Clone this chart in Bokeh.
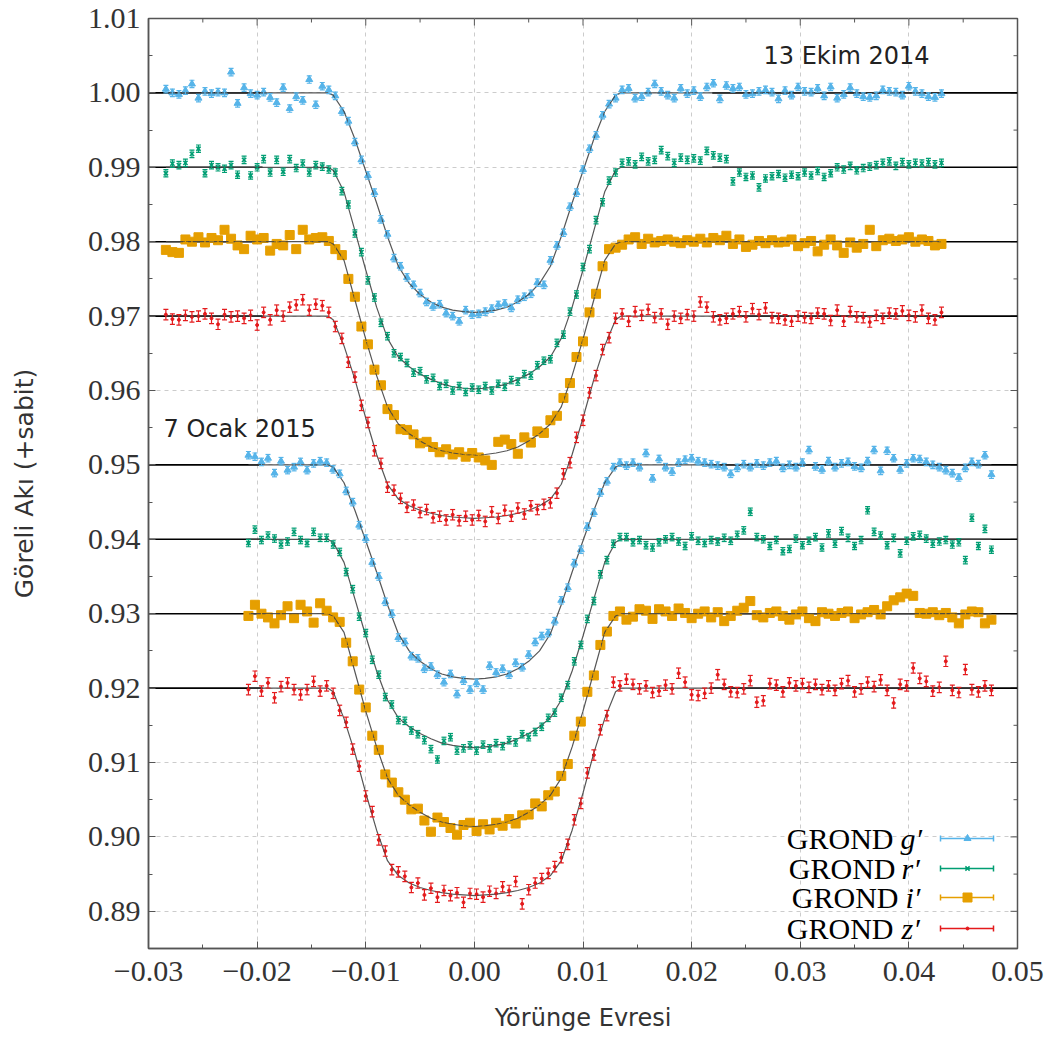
from bokeh.plotting import figure
from bokeh.models import (Range1d, FixedTicker, CustomJSTickFormatter,
                          ColumnDataSource, Whisker, TeeHead)
from bokeh.core.properties import value
from bokeh.embed import file_html
from bokeh.resources import INLINE

# ---------------- data ----------------
phase_oct = [
    -0.0284, -0.0278, -0.0272, -0.0266, -0.0260, -0.0254, -0.0248, -0.0242, -0.0236, -0.0230,
    -0.0224, -0.0218, -0.0212, -0.0206, -0.0200, -0.0194, -0.0188, -0.0182, -0.0176, -0.0170,
    -0.0164, -0.0158, -0.0152, -0.0146, -0.0140, -0.0134, -0.0128, -0.0122, -0.0116, -0.0110,
    -0.0104, -0.0098, -0.0092, -0.0086, -0.0080, -0.0074, -0.0068, -0.0062, -0.0056, -0.0050,
    -0.0044, -0.0038, -0.0032, -0.0026, -0.0020, -0.0014, -0.0008, -0.0002, 0.0004, 0.0010,
    0.0016, 0.0022, 0.0028, 0.0034, 0.0040, 0.0046, 0.0052, 0.0058, 0.0064, 0.0070,
    0.0076, 0.0082, 0.0088, 0.0094, 0.0100, 0.0106, 0.0112, 0.0118, 0.0124, 0.0130,
    0.0136, 0.0142, 0.0148, 0.0154, 0.0160, 0.0166, 0.0172, 0.0178, 0.0184, 0.0190,
    0.0196, 0.0202, 0.0208, 0.0214, 0.0220, 0.0226, 0.0232, 0.0238, 0.0244, 0.0250,
    0.0256, 0.0262, 0.0268, 0.0274, 0.0280, 0.0286, 0.0292, 0.0298, 0.0304, 0.0310,
    0.0316, 0.0322, 0.0328, 0.0334, 0.0340, 0.0346, 0.0352, 0.0358, 0.0364, 0.0370,
    0.0376, 0.0382, 0.0388, 0.0394, 0.0400, 0.0406, 0.0412, 0.0418, 0.0424, 0.0430]

phase_jan = [
    -0.0208, -0.0202, -0.0196, -0.0190, -0.0184, -0.0178, -0.0172, -0.0166, -0.0160, -0.0154,
    -0.0148, -0.0142, -0.0136, -0.0130, -0.0124, -0.0118, -0.0112, -0.0106, -0.0100, -0.0094,
    -0.0088, -0.0082, -0.0076, -0.0070, -0.0064, -0.0058, -0.0052, -0.0046, -0.0040, -0.0034,
    -0.0028, -0.0022, -0.0016, -0.0010, -0.0004, 0.0002, 0.0008, 0.0014, 0.0020, 0.0026,
    0.0032, 0.0038, 0.0044, 0.0050, 0.0056, 0.0062, 0.0068, 0.0074, 0.0080, 0.0086,
    0.0092, 0.0098, 0.0104, 0.0110, 0.0116, 0.0122, 0.0128, 0.0134, 0.0140, 0.0146,
    0.0152, 0.0158, 0.0164, 0.0170, 0.0176, 0.0182, 0.0188, 0.0194, 0.0200, 0.0206,
    0.0212, 0.0218, 0.0224, 0.0230, 0.0236, 0.0242, 0.0248, 0.0254, 0.0260, 0.0266,
    0.0272, 0.0278, 0.0284, 0.0290, 0.0296, 0.0302, 0.0308, 0.0314, 0.0320, 0.0326,
    0.0332, 0.0338, 0.0344, 0.0350, 0.0356, 0.0362, 0.0368, 0.0374, 0.0380, 0.0386,
    0.0392, 0.0398, 0.0404, 0.0410, 0.0416, 0.0422, 0.0428, 0.0434, 0.0440, 0.0446,
    0.0452, 0.0458, 0.0464, 0.0470, 0.0476]

# 13 Ekim 2014
g_oct = [
    1.0005, 1.0000, 0.9998, 1.0003, 1.0012, 0.9993, 1.0002, 0.9999, 1.0001, 1.0000,
    1.0028, 0.9986, 1.0007, 0.9999, 0.9997, 1.0001, 0.9994, 0.9987, 1.0007, 0.9979,
    0.9995, 0.9990, 1.0018, 0.9984, 1.0009, 1.0004, 0.9996, 0.9975, 0.9962, 0.9934,
    0.9910, 0.9889, 0.9866, 0.9830, 0.9810, 0.9778, 0.9767, 0.9752, 0.9742, 0.9731,
    0.9719, 0.9713, 0.9716, 0.9704, 0.9700, 0.9693, 0.9708, 0.9702, 0.9703, 0.9706,
    0.9710, 0.9715, 0.9717, 0.9711, 0.9722, 0.9726, 0.9730, 0.9745, 0.9742, 0.9775,
    0.9795, 0.9812, 0.9847, 0.9866, 0.9897, 0.9925, 0.9943, 0.9970, 0.9985, 0.9993,
    1.0004, 1.0006, 0.9993, 0.9995, 1.0001, 1.0012, 1.0002, 0.9997, 0.9993, 1.0006,
    0.9999, 1.0003, 0.9995, 1.0008, 1.0013, 0.9992, 1.0010, 1.0006, 1.0008, 0.9998,
    0.9999, 1.0002, 1.0004, 1.0001, 0.9992, 1.0003, 0.9997, 1.0008, 1.0002, 1.0001,
    1.0006, 0.9996, 1.0008, 0.9993, 0.9998, 1.0007, 0.9999, 0.9995, 0.9994, 0.9996,
    1.0004, 1.0002, 1.0001, 0.9997, 1.0009, 1.0002, 0.9999, 0.9995, 0.9994, 0.9999]
r_oct = [
    0.9892, 0.9905, 0.9903, 0.9906, 0.9918, 0.9925, 0.9892, 0.9903, 0.9900, 0.9898,
    0.9903, 0.9890, 0.9910, 0.9889, 0.9900, 0.9911, 0.9893, 0.9910, 0.9894, 0.9911,
    0.9899, 0.9905, 0.9893, 0.9903, 0.9901, 0.9897, 0.9893, 0.9868, 0.9850, 0.9811,
    0.9786, 0.9748, 0.9725, 0.9691, 0.9673, 0.9650, 0.9645, 0.9637, 0.9624, 0.9626,
    0.9615, 0.9617, 0.9606, 0.9609, 0.9600, 0.9606, 0.9598, 0.9604, 0.9601, 0.9606,
    0.9600, 0.9609, 0.9605, 0.9614, 0.9612, 0.9622, 0.9620, 0.9634, 0.9640, 0.9642,
    0.9664, 0.9675, 0.9706, 0.9729, 0.9766, 0.9790, 0.9829, 0.9853, 0.9882, 0.9893,
    0.9906, 0.9908, 0.9904, 0.9914, 0.9908, 0.9910, 0.9923, 0.9915, 0.9906, 0.9913,
    0.9910, 0.9912, 0.9909, 0.9922, 0.9916, 0.9913, 0.9911, 0.9881, 0.9893, 0.9887,
    0.9889, 0.9873, 0.9885, 0.9888, 0.9891, 0.9886, 0.9890, 0.9888, 0.9893, 0.9889,
    0.9895, 0.9887, 0.9892, 0.9900, 0.9897, 0.9902, 0.9896, 0.9899, 0.9901, 0.9903,
    0.9906, 0.9908, 0.9902, 0.9907, 0.9904, 0.9906, 0.9905, 0.9907, 0.9904, 0.9906]
i_oct = [
    0.9789, 0.9786, 0.9785, 0.9803, 0.9800, 0.9806, 0.9799, 0.9805, 0.9802, 0.9816,
    0.9804, 0.9795, 0.9790, 0.9808, 0.9803, 0.9805, 0.9788, 0.9797, 0.9795, 0.9809,
    0.9790, 0.9816, 0.9803, 0.9805, 0.9806, 0.9801, 0.9790, 0.9782, 0.9750, 0.9726,
    0.9686, 0.9662, 0.9628, 0.9607, 0.9575, 0.9567, 0.9548, 0.9547, 0.9541, 0.9529,
    0.9531, 0.9524, 0.9517, 0.9521, 0.9514, 0.9517, 0.9511, 0.9516, 0.9510, 0.9506,
    0.9500, 0.9531, 0.9534, 0.9528, 0.9515, 0.9537, 0.9530, 0.9545, 0.9543, 0.9560,
    0.9566, 0.9590, 0.9610, 0.9645, 0.9666, 0.9705, 0.9730, 0.9767, 0.9790, 0.9792,
    0.9796, 0.9803, 0.9806, 0.9797, 0.9804, 0.9799, 0.9801, 0.9803, 0.9800, 0.9798,
    0.9802, 0.9800, 0.9804, 0.9799, 0.9805, 0.9802, 0.9808, 0.9797, 0.9803, 0.9793,
    0.9796, 0.9801, 0.9798, 0.9802, 0.9799, 0.9800, 0.9803, 0.9794, 0.9798, 0.9801,
    0.9787, 0.9796, 0.9803, 0.9795, 0.9785, 0.9799, 0.9792, 0.9797, 0.9816, 0.9794,
    0.9802, 0.9804, 0.9801, 0.9803, 0.9806, 0.9800, 0.9803, 0.9801, 0.9795, 0.9797]
z_oct = [
    0.9702, 0.9696, 0.9695, 0.9701, 0.9699, 0.9700, 0.9703, 0.9697, 0.9689, 0.9702,
    0.9699, 0.9700, 0.9697, 0.9701, 0.9688, 0.9705, 0.9695, 0.9708, 0.9700, 0.9712,
    0.9715, 0.9722, 0.9708, 0.9716, 0.9714, 0.9705, 0.9686, 0.9670, 0.9638, 0.9618,
    0.9580, 0.9557, 0.9519, 0.9502, 0.9470, 0.9466, 0.9455, 0.9443, 0.9446, 0.9436,
    0.9440, 0.9429, 0.9431, 0.9426, 0.9433, 0.9425, 0.9431, 0.9426, 0.9432, 0.9424,
    0.9437, 0.9428, 0.9439, 0.9431, 0.9442, 0.9434, 0.9445, 0.9440, 0.9447, 0.9449,
    0.9462, 0.9488, 0.9503, 0.9537, 0.9560, 0.9597, 0.9620, 0.9655, 0.9671, 0.9697,
    0.9703, 0.9693, 0.9706, 0.9701, 0.9709, 0.9698, 0.9703, 0.9689, 0.9700, 0.9697,
    0.9702, 0.9700, 0.9719, 0.9712, 0.9699, 0.9695, 0.9697, 0.9703, 0.9706, 0.9699,
    0.9710, 0.9702, 0.9711, 0.9698, 0.9697, 0.9695, 0.9693, 0.9700, 0.9698, 0.9697,
    0.9704, 0.9703, 0.9694, 0.9708, 0.9693, 0.9706, 0.9699, 0.9698, 0.9692, 0.9701,
    0.9697, 0.9704, 0.9703, 0.9707, 0.9701, 0.9699, 0.9708, 0.9697, 0.9695, 0.9705]

# 7 Ocak 2015
g_jan = [
    0.9513, 0.9511, 0.9504, 0.9509, 0.9489, 0.9505, 0.9493, 0.9497, 0.9504, 0.9493,
    0.9502, 0.9505, 0.9503, 0.9494, 0.9488, 0.9465, 0.9450, 0.9419, 0.9401, 0.9369,
    0.9350, 0.9316, 0.9300, 0.9268, 0.9262, 0.9243, 0.9240, 0.9226, 0.9229, 0.9218,
    0.9208, 0.9219, 0.9192, 0.9210, 0.9198, 0.9207, 0.9198, 0.9230, 0.9221, 0.9226,
    0.9218, 0.9234, 0.9228, 0.9245, 0.9262, 0.9270, 0.9274, 0.9290, 0.9318, 0.9335,
    0.9368, 0.9386, 0.9417, 0.9436, 0.9463, 0.9478, 0.9497, 0.9503, 0.9499, 0.9503,
    0.9497, 0.9516, 0.9482, 0.9508, 0.9497, 0.9491, 0.9503, 0.9507, 0.9509, 0.9505,
    0.9503, 0.9501, 0.9499, 0.9497, 0.9488, 0.9496, 0.9501, 0.9497, 0.9502, 0.9499,
    0.9503, 0.9505, 0.9496, 0.9500, 0.9497, 0.9503, 0.9520, 0.9498, 0.9494, 0.9505,
    0.9497, 0.9502, 0.9504, 0.9498, 0.9496, 0.9505, 0.9520, 0.9492, 0.9519, 0.9509,
    0.9494, 0.9502, 0.9509, 0.9508, 0.9504, 0.9500, 0.9497, 0.9493, 0.9489, 0.9483,
    0.9496, 0.9504, 0.9501, 0.9513, 0.9487]
r_jan = [
    0.9395, 0.9413, 0.9399, 0.9405, 0.9401, 0.9393, 0.9397, 0.9410, 0.9399, 0.9395,
    0.9410, 0.9402, 0.9402, 0.9393, 0.9383, 0.9356, 0.9333, 0.9296, 0.9274, 0.9238,
    0.9218, 0.9188, 0.9178, 0.9157, 0.9156, 0.9143, 0.9138, 0.9130, 0.9118, 0.9104,
    0.9129, 0.9134, 0.9116, 0.9119, 0.9123, 0.9116, 0.9124, 0.9119, 0.9126, 0.9122,
    0.9130, 0.9127, 0.9138, 0.9134, 0.9141, 0.9148, 0.9160, 0.9167, 0.9187, 0.9204,
    0.9236, 0.9258, 0.9293, 0.9317, 0.9353, 0.9372, 0.9394, 0.9403, 0.9403, 0.9396,
    0.9399, 0.9392, 0.9389, 0.9396, 0.9400, 0.9403, 0.9397, 0.9391, 0.9404, 0.9398,
    0.9395, 0.9399, 0.9397, 0.9402, 0.9398, 0.9406, 0.9412, 0.9437, 0.9403, 0.9400,
    0.9391, 0.9399, 0.9384, 0.9387, 0.9401, 0.9392, 0.9398, 0.9403, 0.9389, 0.9408,
    0.9394, 0.9411, 0.9402, 0.9391, 0.9399, 0.9439, 0.9410, 0.9405, 0.9392, 0.9402,
    0.9381, 0.9398, 0.9404, 0.9406, 0.9401, 0.9394, 0.9397, 0.9399, 0.9393, 0.9396,
    0.9372, 0.9429, 0.9391, 0.9414, 0.9386]
i_jan = [
    0.9297, 0.9312, 0.9300, 0.9295, 0.9287, 0.9298, 0.9310, 0.9294, 0.9312, 0.9303,
    0.9288, 0.9314, 0.9304, 0.9295, 0.9289, 0.9261, 0.9236, 0.9198, 0.9174, 0.9136,
    0.9117, 0.9084, 0.9073, 0.9060, 0.9050, 0.9037, 0.9038, 0.9022, 0.9007, 0.9026,
    0.9020, 0.9012, 0.9003, 0.9016, 0.9019, 0.9008, 0.9017, 0.9010, 0.9019, 0.9015,
    0.9024, 0.9018, 0.9029, 0.9030, 0.9045, 0.9041, 0.9056, 0.9061, 0.9082, 0.9098,
    0.9136, 0.9155, 0.9195, 0.9217, 0.9258, 0.9276, 0.9297, 0.9303, 0.9292, 0.9296,
    0.9306, 0.9304, 0.9293, 0.9306, 0.9303, 0.9297, 0.9307, 0.9301, 0.9294, 0.9300,
    0.9303, 0.9295, 0.9302, 0.9290, 0.9297, 0.9304, 0.9308, 0.9317, 0.9298, 0.9295,
    0.9301, 0.9303, 0.9297, 0.9292, 0.9299, 0.9303, 0.9294, 0.9290, 0.9302, 0.9300,
    0.9297, 0.9301, 0.9303, 0.9294, 0.9299, 0.9302, 0.9305, 0.9299, 0.9310, 0.9318,
    0.9322, 0.9327, 0.9324, 0.9301, 0.9300, 0.9302, 0.9298, 0.9301, 0.9295, 0.9287,
    0.9299, 0.9303, 0.9302, 0.9287, 0.9292]
z_jan = [
    0.9198, 0.9216, 0.9196, 0.9207, 0.9187, 0.9202, 0.9207, 0.9198, 0.9191, 0.9198,
    0.9209, 0.9196, 0.9203, 0.9193, 0.9170, 0.9154, 0.9118, 0.9095, 0.9055, 0.9034,
    0.8996, 0.8981, 0.8956, 0.8953, 0.8947, 0.8932, 0.8938, 0.8922, 0.8931, 0.8919,
    0.8928, 0.8921, 0.8925, 0.8912, 0.8924, 0.8923, 0.8919, 0.8927, 0.8924, 0.8933,
    0.8928, 0.8940, 0.8910, 0.8929, 0.8938, 0.8944, 0.8951, 0.8960, 0.8972, 0.8990,
    0.9023, 0.9045, 0.9086, 0.9110, 0.9144, 0.9163, 0.9208, 0.9203, 0.9212, 0.9205,
    0.9199, 0.9203, 0.9194, 0.9196, 0.9204, 0.9199, 0.9220, 0.9208, 0.9191, 0.9190,
    0.9193, 0.9200, 0.9218, 0.9205, 0.9195, 0.9194, 0.9199, 0.9210, 0.9181, 0.9183,
    0.9206, 0.9204, 0.9195, 0.9207, 0.9203, 0.9206, 0.9201, 0.9205, 0.9198, 0.9203,
    0.9197, 0.9206, 0.9210, 0.9195, 0.9199, 0.9208, 0.9202, 0.9211, 0.9197, 0.9180,
    0.9205, 0.9203, 0.9227, 0.9213, 0.9209, 0.9196, 0.9201, 0.9236, 0.9197, 0.9194,
    0.9225, 0.9198, 0.9195, 0.9203, 0.9197]

# photometric error (half bar length) per band
err_g, err_r, err_i, err_z = 0.0005, 0.0005, 0.0004, 0.0007

# fitted transit models
model_x_oct = [-0.0284, -0.0135, -0.0130, -0.0120, -0.0110, -0.0100, -0.0090, -0.0080, -0.0070,
               -0.0060, -0.0050, -0.0040, -0.0030, -0.0020, -0.0010, 0.0000, 0.0010, 0.0020,
               0.0030, 0.0040, 0.0050, 0.0060, 0.0070, 0.0080, 0.0090, 0.0100, 0.0110, 0.0120,
               0.0130, 0.0135, 0.0430]
model_x_jan = [-0.0208, -0.0135, -0.0130, -0.0120, -0.0110, -0.0100, -0.0090, -0.0080, -0.0070,
               -0.0060, -0.0050, -0.0040, -0.0030, -0.0020, -0.0010, 0.0000, 0.0010, 0.0020,
               0.0030, 0.0040, 0.0050, 0.0060, 0.0070, 0.0080, 0.0090, 0.0100, 0.0110, 0.0120,
               0.0130, 0.0135, 0.0476]
mg_oct = [1.0000, 1.0000, 0.9997, 0.9975, 0.9938, 0.9895, 0.9852, 0.9807, 0.9767, 0.9744, 0.9729,
          0.9719, 0.9712, 0.9708, 0.9706, 0.9705, 0.9706, 0.9708, 0.9712, 0.9719, 0.9729, 0.9744,
          0.9767, 0.9807, 0.9852, 0.9895, 0.9938, 0.9975, 0.9997, 1.0000, 1.0000]
mr_oct = [0.9900, 0.9900, 0.9896, 0.9867, 0.9815, 0.9762, 0.9712, 0.9670, 0.9645, 0.9632, 0.9622,
          0.9615, 0.9609, 0.9605, 0.9603, 0.9602, 0.9603, 0.9605, 0.9609, 0.9615, 0.9622, 0.9632,
          0.9645, 0.9670, 0.9712, 0.9762, 0.9815, 0.9867, 0.9896, 0.9900, 0.9900]
mi_oct = [0.9800, 0.9800, 0.9797, 0.9775, 0.9722, 0.9669, 0.9620, 0.9578, 0.9555, 0.9542, 0.9532,
          0.9524, 0.9519, 0.9516, 0.9514, 0.9513, 0.9514, 0.9516, 0.9519, 0.9524, 0.9532, 0.9542,
          0.9555, 0.9578, 0.9620, 0.9669, 0.9722, 0.9775, 0.9797, 0.9800, 0.9800]
mz_oct = [0.9700, 0.9700, 0.9695, 0.9660, 0.9615, 0.9563, 0.9514, 0.9474, 0.9454, 0.9445, 0.9439,
          0.9435, 0.9432, 0.9430, 0.9429, 0.9428, 0.9429, 0.9430, 0.9432, 0.9435, 0.9439, 0.9445,
          0.9454, 0.9474, 0.9514, 0.9563, 0.9615, 0.9660, 0.9695, 0.9700, 0.9700]
mg_jan = [0.9500, 0.9500, 0.9497, 0.9476, 0.9439, 0.9398, 0.9356, 0.9312, 0.9273, 0.9250, 0.9236,
          0.9226, 0.9219, 0.9215, 0.9213, 0.9212, 0.9213, 0.9215, 0.9219, 0.9226, 0.9236, 0.9250,
          0.9273, 0.9312, 0.9356, 0.9398, 0.9439, 0.9476, 0.9497, 0.9500, 0.9500]
mr_jan = [0.9400, 0.9400, 0.9396, 0.9369, 0.9320, 0.9270, 0.9223, 0.9184, 0.9160, 0.9148, 0.9139,
          0.9132, 0.9126, 0.9123, 0.9121, 0.9120, 0.9121, 0.9123, 0.9126, 0.9132, 0.9139, 0.9148,
          0.9160, 0.9184, 0.9223, 0.9270, 0.9320, 0.9369, 0.9396, 0.9400, 0.9400]
mi_jan = [0.9300, 0.9300, 0.9297, 0.9275, 0.9222, 0.9169, 0.9121, 0.9079, 0.9056, 0.9043, 0.9033,
          0.9025, 0.9020, 0.9017, 0.9015, 0.9014, 0.9015, 0.9017, 0.9020, 0.9025, 0.9033, 0.9043,
          0.9056, 0.9079, 0.9121, 0.9169, 0.9222, 0.9275, 0.9297, 0.9300, 0.9300]
mz_jan = [0.9200, 0.9200, 0.9195, 0.9159, 0.9113, 0.9059, 0.9009, 0.8968, 0.8948, 0.8938, 0.8932,
          0.8928, 0.8925, 0.8923, 0.8922, 0.8921, 0.8922, 0.8923, 0.8925, 0.8928, 0.8932, 0.8938,
          0.8948, 0.8968, 0.9009, 0.9059, 0.9113, 0.9159, 0.9195, 0.9200, 0.9200]

baselines = [1.00, 0.99, 0.98, 0.97, 0.95, 0.94, 0.93, 0.92]
x_ticks = [-0.03, -0.02, -0.01, 0.0, 0.01, 0.02, 0.03, 0.04, 0.05]
x_minor = [-0.025, -0.015, -0.005, 0.005, 0.015, 0.025, 0.035, 0.045]
y_ticks = [0.89, 0.90, 0.91, 0.92, 0.93, 0.94, 0.95, 0.96, 0.97, 0.98, 0.99, 1.00, 1.01]
y_minor = [0.885, 0.895, 0.905, 0.915, 0.925, 0.935, 0.945, 0.955, 0.965, 0.975, 0.985, 0.995, 1.005]
legend_labels = ["g\u2032", "r\u2032", "i\u2032", "z\u2032"]

# ---------------- styles ----------------
COL = {"g": "#56B4E9", "r": "#009E73", "i": "#E69F00", "z": "#E41A1C"}
MARK = {"g": ("triangle", 7), "r": ("x", 6), "i": ("square", 9), "z": ("circle", 3)}
ERR = {"g": err_g, "r": err_r, "i": err_i, "z": err_z}
AXC = "#555555"

FW, FH = 869, 930
p = figure(frame_width=FW, frame_height=FH,
           x_range=Range1d(-0.03, 0.05), y_range=Range1d(0.885, 1.01),
           output_backend="svg", toolbar_location=None,
           min_border_left=148, min_border_right=28, min_border_top=18, min_border_bottom=86,
           x_axis_label="Yörünge Evresi", y_axis_label="Göreli Akı (+sabit)")
p.extra_x_ranges = {"fx": Range1d(0, FW)}
p.extra_y_ranges = {"fy": Range1d(0, FH)}
p.background_fill_color = "white"
p.border_fill_color = "white"
p.outline_line_color = AXC
p.outline_line_width = 1.5

xt = FixedTicker(ticks=x_ticks, minor_ticks=x_minor)
yt = FixedTicker(ticks=y_ticks, minor_ticks=y_minor)
xfmt = CustomJSTickFormatter(code="const s = Math.abs(tick).toFixed(2); return (tick < -1e-9) ? '\u2212' + s : s;")
yfmt = CustomJSTickFormatter(code="return tick.toFixed(2);")

for ax in p.xaxis + p.yaxis:
    ax.axis_line_color = AXC
    ax.axis_line_width = 1.5
    ax.major_tick_in = 7
    ax.major_tick_out = 0
    ax.minor_tick_in = 4
    ax.minor_tick_out = 0
    ax.major_tick_line_color = AXC
    ax.minor_tick_line_color = AXC
    ax.major_label_text_font = "Liberation Serif"
    ax.major_label_text_color = "#333333"
    ax.major_label_text_font_size = "30px"
    ax.axis_label_text_font = "DejaVu Sans"
    ax.axis_label_text_font_style = "normal"
    ax.axis_label_text_color = "#333333"
for ax in p.xaxis:
    ax.ticker = xt
    ax.formatter = xfmt
    ax.major_label_standoff = 13
    ax.axis_label_text_font_size = "24px"
    ax.axis_label_standoff = 20
for ax in p.yaxis:
    ax.ticker = yt
    ax.formatter = yfmt
    ax.major_label_standoff = 8
    ax.axis_label_text_font_size = "25px"
    ax.axis_label_standoff = 46

for g in (p.xgrid[0], p.ygrid[0]):
    g.grid_line_color = "#cccccc"
    g.grid_line_dash = "4 4"
    g.grid_line_width = 1
p.xgrid[0].ticker = xt
p.ygrid[0].ticker = yt

# mirrored inward ticks on the top and right frame edges
p.segment(x0=x_ticks, x1=x_ticks, y0=[FH] * len(x_ticks), y1=[FH - 7] * len(x_ticks),
          y_range_name="fy", line_color=AXC, line_width=1)
p.segment(x0=x_minor, x1=x_minor, y0=[FH] * len(x_minor), y1=[FH - 4] * len(x_minor),
          y_range_name="fy", line_color=AXC, line_width=1)
p.segment(x0=[FW] * len(y_ticks), x1=[FW - 7] * len(y_ticks), y0=y_ticks, y1=y_ticks,
          x_range_name="fx", line_color=AXC, line_width=1)
p.segment(x0=[FW] * len(y_minor), x1=[FW - 4] * len(y_minor), y0=y_minor, y1=y_minor,
          x_range_name="fx", line_color=AXC, line_width=1)

# black reference lines outside the transit
p.segment(x0=[-0.03] * len(baselines), x1=[-0.0195] * len(baselines), y0=baselines, y1=baselines,
          line_color="black", line_width=1.6)
p.segment(x0=[0.0219] * len(baselines), x1=[0.05] * len(baselines), y0=baselines, y1=baselines,
          line_color="black", line_width=1.6)

series = [
    ("g", phase_oct, g_oct), ("r", phase_oct, r_oct), ("i", phase_oct, i_oct), ("z", phase_oct, z_oct),
    ("g", phase_jan, g_jan), ("r", phase_jan, r_jan), ("i", phase_jan, i_jan), ("z", phase_jan, z_jan),
]
for band, xs, ys in series:
    n = min(len(xs), len(ys))
    xs, ys = xs[:n], ys[:n]
    e = ERR[band]
    src = ColumnDataSource(dict(x=xs, y=ys, lo=[v - e for v in ys], hi=[v + e for v in ys]))
    w = Whisker(base="x", lower="lo", upper="hi", source=src, dimension="height",
                line_color=COL[band], line_width=1.2, level="glyph",
                upper_head=TeeHead(size=5, line_color=COL[band], line_width=1.2),
                lower_head=TeeHead(size=5, line_color=COL[band], line_width=1.2))
    p.add_layout(w)
    mk, sz = MARK[band]
    if mk == "x":
        p.scatter("x", "y", source=src, marker=mk, size=sz, line_color=COL[band], line_width=1.6)
    else:
        p.scatter("x", "y", source=src, marker=mk, size=sz, fill_color=COL[band], line_color=COL[band])

models = [(model_x_oct, mg_oct), (model_x_oct, mr_oct), (model_x_oct, mi_oct), (model_x_oct, mz_oct),
          (model_x_jan, mg_jan), (model_x_jan, mr_jan), (model_x_jan, mi_jan), (model_x_jan, mz_jan)]
for mx, my in models:
    p.line(mx, my, line_color="#444444", line_width=1.2, line_alpha=0.9)

# date annotations (frame pixel coordinates)
p.text(x=[615], y=[893], text=["13 Ekim 2014"], x_range_name="fx", y_range_name="fy",
       text_font=value("DejaVu Sans"), text_font_size=value("24px"), text_color="#222222",
       text_align="left", text_baseline="middle")
p.text(x=[15], y=[520], text=["7 Ocak 2015"], x_range_name="fx", y_range_name="fy",
       text_font=value("DejaVu Sans"), text_font_size=value("24px"), text_color="#222222",
       text_align="left", text_baseline="middle")

# legend (frame pixel coordinates)
rows_y = [110, 80, 51, 20]
grond_right = [745, 747, 750, 745]
letter_left = [752, 753, 757, 753]
bands = ["g", "r", "i", "z"]
p.text(x=grond_right, y=rows_y, text=["GROND"] * 4, x_range_name="fx", y_range_name="fy",
       text_font=value("Liberation Serif"), text_font_size=value("30px"), text_color="black",
       text_align="right", text_baseline="middle")
p.text(x=letter_left, y=rows_y, text=legend_labels, x_range_name="fx", y_range_name="fy",
       text_font=value("Liberation Serif"), text_font_size=value("30px"), text_color="black",
       text_font_style="italic", text_align="left", text_baseline="middle")
for b, yy in zip(bands, rows_y):
    c = COL[b]
    p.segment(x0=[792], x1=[845], y0=[yy], y1=[yy], x_range_name="fx", y_range_name="fy",
              line_color=c, line_width=1.5)
    p.segment(x0=[792, 845], x1=[792, 845], y0=[yy - 3, yy - 3], y1=[yy + 3, yy + 3],
              x_range_name="fx", y_range_name="fy", line_color=c, line_width=1.5)
    mk, sz = MARK[b]
    if mk == "x":
        p.scatter([819], [yy], marker=mk, size=sz, line_color=c, line_width=1.6,
                  x_range_name="fx", y_range_name="fy")
    else:
        p.scatter([819], [yy], marker=mk, size=sz, fill_color=c, line_color=c,
                  x_range_name="fx", y_range_name="fy")

open("out.html", "w").write(file_html(p, INLINE))
